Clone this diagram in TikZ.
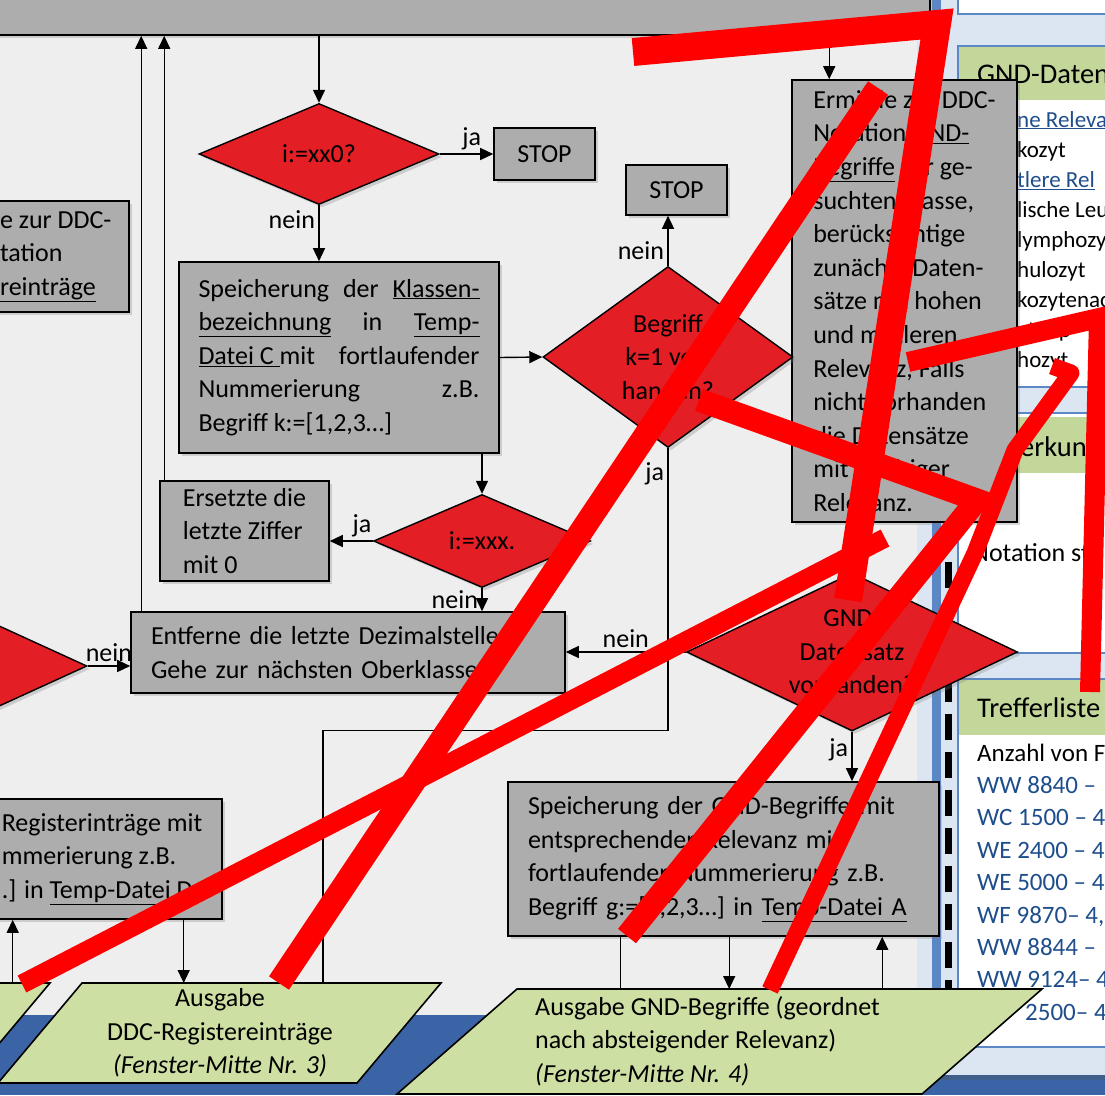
\documentclass[tikz,border=0pt]{standalone}
\usepackage{fontspec}
\setmainfont{Carlito}
\usepackage{xcolor}
\usepackage{tikz}
\usetikzlibrary{arrows.meta, shapes, shadows}

\definecolor{boxgray}{HTML}{ADADAD}
\definecolor{flowred}{HTML}{E31E24}
\definecolor{outgreen}{HTML}{CEDFA3}
\definecolor{headgreen}{HTML}{C4D79B}
\definecolor{paperbg}{HTML}{EEEEEE}
\definecolor{panelbg}{HTML}{DCE6F2}
\definecolor{frameblue}{HTML}{5B87C5}
\definecolor{bandblue}{HTML}{3A64A6}
\definecolor{linkblue}{HTML}{1F4E8C}
\definecolor{scrib}{HTML}{FF0000}

\newcommand{\flowfont}{\fontsize{26pt}{33.6pt}\selectfont}
\newcommand{\headfont}{\fontsize{28.5pt}{32pt}\selectfont}
\newcommand{\panelfont}{\fontsize{23pt}{30pt}\selectfont}
\newcommand{\notefont}{\fontsize{26pt}{30pt}\selectfont}
\newcommand{\listfont}{\fontsize{25pt}{32pt}\selectfont}
\newcommand{\jline}[1]{\makebox[281pt][s]{#1}}

\tikzset{
  stepbox/.style={draw, fill=boxgray, line width=1.6pt, inner sep=0pt,
    drop shadow={shadow xshift=3pt, shadow yshift=-3pt, opacity=0.3}},
  decision/.style={diamond, draw, fill=flowred, line width=1.4pt, inner sep=0pt,
    drop shadow={shadow xshift=3pt, shadow yshift=-3pt, opacity=0.3}},
  outshape/.style={fill=outgreen, draw=black, line width=1.6pt},
  panelbox/.style={fill=white, draw=frameblue, line width=1.2pt},
  headtxt/.style={anchor=base west, inner sep=0pt, font=\headfont},
  paneltxt/.style={anchor=base west, inner sep=0pt, font=\panelfont},
  listtxt/.style={anchor=base west, inner sep=0pt, font=\listfont}
}

\begin{document}
\begin{tikzpicture}[x=1pt, y=-1pt, font=\flowfont]
            \useasboundingbox (0,0) rectangle (1105,1095);
            \clip (0,0) rectangle (1105,1095);
            \fill[paperbg] (0,0) rectangle (1105,1095);
            \fill[bandblue] (0,1015) rectangle (1105,1095);

            % window on the right
            \begin{scope}
                \fill[panelbg] (917,0) rectangle (1105,1075);
                \fill[frameblue] (932,0) rectangle (941,1075);
                \fill[frameblue!70!black] (917,1075) rectangle (1105,1080);
                \draw[panelbox] (958,-5) rectangle (1110,14);
                \draw[panelbox] (958,46) rectangle (1110,387);
                \fill[headgreen] (958.6,46.6) rectangle (1110,100);
                \draw[panelbox] (958,413) rectangle (1110,653);
                \fill[headgreen] (958.6,417) rectangle (1110,473);
                \draw[panelbox] (958,679) rectangle (1110,1047);
                \fill[headgreen] (958.6,679.6) rectangle (1110,735);
                \draw[line width=7pt, dash pattern=on 26pt off 12pt] (948,562) -- (948,1000);

                \node[headtxt] (hGND) at (977,83) {GND-Daten};
                \foreach \txt [count=\i from 0] in {{\color{linkblue}\underline{ne Releva}}, kozyt,
                    {\color{linkblue}\underline{tlere Rel}}, lische Leu, lymphozy, hulozyt, kozytenac, ytenp, hozyt}
                    \node[paneltxt] (gLine\i) at (1017,{127+30.1*\i}) {\txt};
                \node[headtxt] (hAnm) at (1020,456) {erkung};
                \node[paneltxt, font=\notefont] (tNot) at (972,561) {Notation st};
                \node[headtxt] (hTreff) at (977,717) {Trefferliste};
                \node[listtxt] (tAnz) at (977,761) {Anzahl von F};
                \foreach \txt [count=\i] in {WW 8840 –, WC 1500 – 4, WE 2400 – 4, WE 5000 – 4,
                    {WF 9870– 4,}, WW 8844 –, WW 9124– 4}
                    \node[listtxt, text=linkblue] (tHit\i) at (977,{761+32.4*\i}) {\txt};
                \node[listtxt, text=linkblue] (tHit8) at (1025,{761+32.4*8}) {2500– 4,5};
            \end{scope}

            % boxes
            \node[stepbox, minimum width=945pt, minimum height=45pt] (bar) at (457.5,12.5) {};
            \node[stepbox, minimum width=146.5pt, minimum height=111pt, align=left] (bNot) at (55.75,256.5)
                {e zur DDC-\\tation\\\underline{reinträge}};
            \node[stepbox, minimum width=320pt, minimum height=191pt, align=left] (bKlassen) at (339,357.5)
                {\jline{Speicherung der \underline{Klassen-}}\\\jline{\underline{bezeichnung} in \underline{Temp-}}\\
                 \jline{\underline{Datei C\ }mit fortlaufender}\\\jline{Nummerierung z.B.}\\Begriff k:=[1,2,3…]};
            \node[stepbox, minimum width=101pt, minimum height=52pt] (stop1) at (544.5,154) {STOP};
            \node[stepbox, minimum width=101pt, minimum height=50pt] (stop2) at (676.5,190) {STOP};
            \node[stepbox, minimum width=169pt, minimum height=100pt, align=left] (bErs) at (244.5,531)
                {Ersetzte die\\letzte Ziffer\\mit 0};
            \node[stepbox, minimum width=434pt, minimum height=81pt, text width=394pt, inner xsep=20pt,
                align=left] (bEnt) at (348,652.5)
                {Entferne die letzte Dezimalstelle\\Gehe zur nächsten Oberklasse};
            \node[stepbox, minimum width=240pt, minimum height=120pt, align=left] (bReg) at (102,859)
                {Registerinträge mit\\mmerierung z.B.\\.] in \underline{Temp-Datei D}};
            \node[stepbox, minimum width=225pt, minimum height=442pt, align=left] (bErm) at (904.5,301)
                {Ermittle zur DDC-\\Notation \underline{GND-}\\\underline{Begriffe} zur ge-\\suchten Klasse,\\
                 berücksichtige\\zunächst Daten-\\sätze mit hohen\\und mittleren\\Relevanz, Falls\\
                 nicht vorhanden\\die Datensätze\\mit niedriger\\Relevanz.};
            \node[stepbox, minimum width=431pt, minimum height=154pt, text width=391pt, inner xsep=20pt,
                align=left] (bGND) at (723.5,859)
                {Speicherung der GND-Begriffe mit\\entsprechender Relevanz mit\\
                 fortlaufender Nummerierung z.B.\\Begriff g:=[1,2,3…] in \underline{Temp-Datei A}};

            % decisions
            \node[decision, minimum width=240pt, minimum height=101pt,
                label={center:{i:=xx0?}}] (dXX0) at (319,154) {};
            \node[decision, minimum width=250pt, minimum height=181pt,
                label={[align=center]center:{Begriff\\k=1 vor-\\handen?}}] (dBeg) at (668,357) {};
            \node[decision, minimum width=217pt, minimum height=93pt,
                label={center:{i:=xxx.}}] (dXXX) at (482,541) {};
            \node[decision, minimum width=331pt, minimum height=158pt,
                label={[align=center]center:{GND-\\Datensatz\\vorhanden?}}] (dGND) at (852,652) {};
            \node[decision, minimum width=240pt, minimum height=110pt] (dLeft) at (-33,666) {};

            % outputs
            \coordinate (pDtop) at (82,983);
            \coordinate (pGtop) at (517,989);
            \coordinate (cDDCin) at (323,983);
            \filldraw[outshape] (-300,983) -- (50,983) -- (-34,1083) -- (-384,1083) -- cycle;
            \filldraw[outshape] (pDtop) -- (441,983) -- (357,1083) -- (-2,1083) -- cycle;
            \filldraw[outshape] (pGtop) -- (1042,989) -- (922,1094) -- (397,1094) -- cycle;
            \node[align=center, inner sep=0pt] (oDDC) at (220,1033)
                {Ausgabe\\DDC-Registereinträge\\\textit{(Fenster-Mitte Nr. 3)}};
            \node[align=left, anchor=west, inner sep=0pt] (oGND) at (535,1041)
                {Ausgabe GND-Begriffe (geordnet\\nach absteigender Relevanz)\\\textit{(Fenster-Mitte Nr. 4)}};

            \begin{scope}[>={Triangle[length=13pt,width=12pt]},
                          every edge/.style={draw=black, line width=1.4pt}]
                \path[->] (bar.south -| dXX0.north) edge (dXX0.north);
                \path[->] (dXX0.east) edge node[pos=0.6, above] (lJa1) {ja} (stop1.west);
                \path[->] (dXX0.south) edge node[pos=0.25, left] (lNein1) {nein} (dXX0.south |- bKlassen.north);
                \path[->] (bKlassen.east) edge (dBeg.west);
                \path[->] (dBeg.north) edge node[pos=0.3, left] (lNein2) {nein} (dBeg.north |- stop2.south);
                \draw[line width=1.4pt] (dBeg.south) -- node[pos=0.09, left] (lJa2) {ja} ++(0,282) -| (cDDCin);
                \path[->] (bKlassen.south -| dXXX.north) edge (dXXX.north);
                \path[->] (dXXX.west) edge node[pos=0.25, above] (lJa3) {ja} (dXXX.west -| bErs.east);
                \path[->] (dXXX.south) edge node[midway, left] (lNein3) {nein} (dXXX.south |- bEnt.north);
                \path[->] ([xshift=5pt]bErs.north west) edge ([xshift=5pt]bErs.north west |- bar.south);
                \path[->] ([xshift=11pt]bEnt.north west) edge ([xshift=11pt]bEnt.north west |- bar.south);
                \path[->] (dLeft.east) edge node[midway, above] (lNein4) {nein} (dLeft.east -| bEnt.west);
                \path[->] (dGND.west) edge node[midway, above] (lNein5) {nein} (dGND.west -| bEnt.east);
                \path[->] (bErm.south -| dGND.north) edge (dGND.north);
                \path[->] ([xshift=38pt]bErm.north west |- bar.south) edge ([xshift=38pt]bErm.north west);
                \path[->] (dGND.south) edge node[pos=0.37, left] (lJa4) {ja} (dGND.south |- bGND.north);
                \draw[line width=1.4pt] ([xshift=113pt]bGND.south west) -- ([xshift=113pt]bGND.south west |- pGtop);
                \path[->] ([xshift=222pt]bGND.south west) edge ([xshift=222pt]bGND.south west |- pGtop);
                \path[->] ([xshift=375pt]bGND.south west |- pGtop) edge ([xshift=375pt]bGND.south west);
                \path[->] ([xshift=202.5pt]bReg.south west) edge ([xshift=202.5pt]bReg.south west |- pDtop);
                \path[->] ([xshift=31.5pt]bReg.south west |- pDtop) edge ([xshift=31.5pt]bReg.south west);
            \end{scope}

            % red strokes over the picture
            \begin{scope}[draw=scrib, line join=miter]
                \draw[line width=28pt] (633,52) -- (937,24) -- (848,600);
                \draw[line width=24pt] (878,88) -- (279,983);
                \draw[line width=19pt] (22,984) -- (885,538);
                \draw[line width=23pt] (699,400) -- (977,500) -- (627,936);
                \draw[line width=17pt, line join=round] (1052,366) -- (1071,373) -- (1015,450) -- (975,553) -- (770,990);
                \draw[line width=20pt] (908,362) -- (1099,318) -- (1090,692);
            \end{scope}

\end{tikzpicture}
\end{document}
